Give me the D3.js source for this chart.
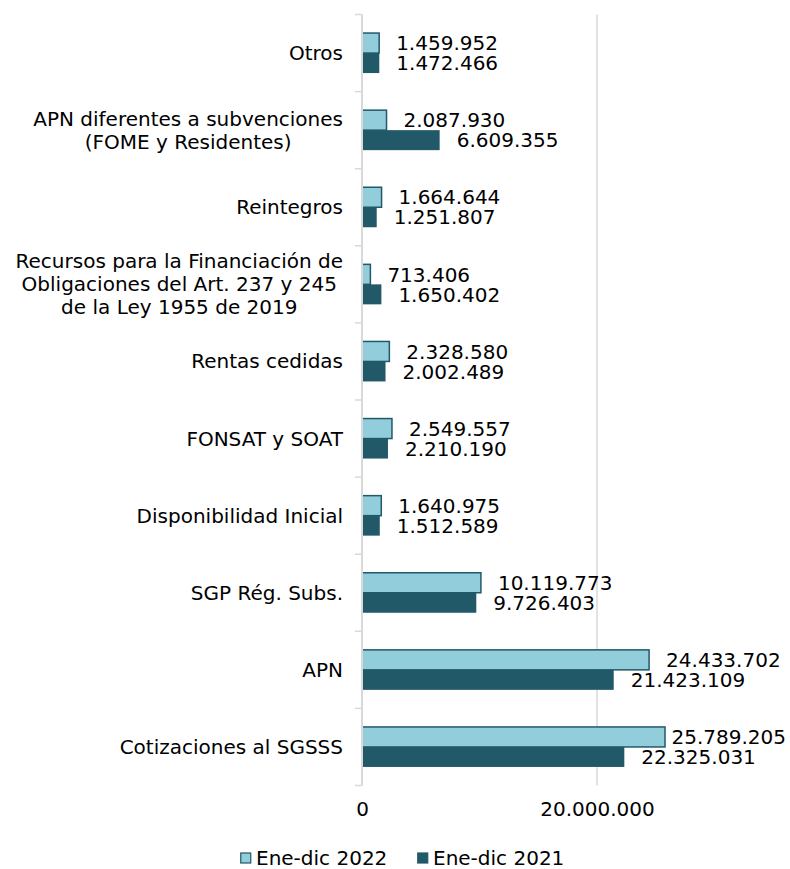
<!DOCTYPE html>
<html>
<head>
<meta charset="utf-8">
<script src="https://cdnjs.cloudflare.com/ajax/libs/d3/7.8.5/d3.min.js"></script>
<style>
    body { margin: 0; background: #fff; }
    svg { display: block; font-family: "DejaVu Sans", Verdana, sans-serif; }
</style>
</head>
<body>
<svg id="chart" width="790" height="869"></svg>
<script>
    "use strict";

    var categories = [
        ["Otros"],
        ["APN diferentes a subvenciones", "(FOME y Residentes)"],
        ["Reintegros"],
        ["Recursos para la Financiación de", "Obligaciones del Art. 237 y 245", "de la Ley 1955 de 2019"],
        ["Rentas cedidas"],
        ["FONSAT y SOAT"],
        ["Disponibilidad Inicial"],
        ["SGP Rég. Subs."],
        ["APN"],
        ["Cotizaciones al SGSSS"]
    ];
    var series = ["Ene-dic 2022", "Ene-dic 2021"];
    var values2022 = [1459952, 2087930, 1664644, 713406, 2328580, 2549557, 1640975, 10119773, 24433702, 25789205];
    var values2021 = [1472466, 6609355, 1251807, 1650402, 2002489, 2210190, 1512589, 9726403, 21423109, 22325031];
    var xTicks = [0, 20000000];

    var colors = { light: "#92cddc", dark: "#215968" };
    var fmt = function (v) { return d3.format(",")(v).replace(/,/g, "."); };

    var svg = d3.select("#chart");

    var x = d3.scaleLinear().domain([0, 20000000]).range([362, 597]);
    var y = d3.scaleBand().domain(d3.range(categories.length)).range([14.5, 785.5]);

    var barH = 20;
    var fs = 20;
    var rightEdge = 786;

    // gridline
    svg.append("g")
        .selectAll("line")
        .data(xTicks.slice(1))
        .enter()
        .append("line")
        .attr("x1", function (d) { return x(d); })
        .attr("x2", function (d) { return x(d); })
        .attr("y1", 14.5)
        .attr("y2", 785.5)
        .attr("stroke", "#d9d9d9")
        .attr("stroke-width", 1.5);

    // bottom axis labels
    var xAxis = d3.axisBottom(x).tickValues(xTicks).tickSize(0).tickFormat(fmt);
    var gx = svg.append("g").attr("transform", "translate(0,799)").call(xAxis);
    gx.select(".domain").remove();
    gx.selectAll("text").attr("font-size", fs).attr("fill", "#000").attr("font-family", "DejaVu Sans");

    // bars
    var groups = svg.append("g")
        .selectAll("g")
        .data(categories)
        .enter()
        .append("g")
        .attr("transform", function (d, i) { return "translate(0," + (y(i) + y.bandwidth() / 2) + ")"; });

    groups.append("rect")
        .attr("x", x(0))
        .attr("y", -barH)
        .attr("width", function (d, i) { return x(values2022[i]) - x(0); })
        .attr("height", barH)
        .attr("fill", colors.light)
        .attr("stroke", colors.dark)
        .attr("stroke-width", 1.5);

    groups.append("rect")
        .attr("x", x(0))
        .attr("y", 0)
        .attr("width", function (d, i) { return x(values2021[i]) - x(0); })
        .attr("height", barH)
        .attr("fill", colors.dark);

    function valueLabel(vals, yy) {
        groups.append("text")
            .attr("y", yy)
            .attr("dy", "0.36em")
            .attr("font-size", fs)
            .text(function (d, i) { return fmt(vals[i]); })
            .attr("x", function (d, i) {
                // keep label inside the chart area, like the nudged label in the original
                var w = this.getComputedTextLength();
                return Math.min(x(vals[i]) + 17, rightEdge - w);
            });
    }
    valueLabel(values2022, -barH / 2);
    valueLabel(values2021, barH / 2);

    // category labels: lines centered, block right-aligned
    groups.each(function (lines) {
        var g = d3.select(this);
        var lh = 23;
        var t = g.append("text").attr("font-size", fs).attr("text-anchor", "middle");
        var spans = t.selectAll("tspan")
            .data(lines)
            .enter()
            .append("tspan")
            .attr("y", function (d, j) { return (j - (lines.length - 1) / 2) * lh; })
            .attr("dy", "0.35em")
            .text(function (d) { return d; });
        var w = 0;
        spans.each(function () { w = Math.max(w, this.getComputedTextLength()); });
        spans.attr("x", 343 - w / 2);
    });

    // left axis line and ticks
    svg.append("line")
        .attr("x1", x(0)).attr("x2", x(0))
        .attr("y1", 14.5).attr("y2", 785.5)
        .attr("stroke", "#d9d9d9").attr("stroke-width", 2);

    svg.append("g")
        .selectAll("line")
        .data(d3.range(categories.length + 1))
        .enter()
        .append("line")
        .attr("x1", 355).attr("x2", x(0))
        .attr("y1", function (i) { return 14.5 + i * y.step(); })
        .attr("y2", function (i) { return 14.5 + i * y.step(); })
        .attr("stroke", "#d9d9d9").attr("stroke-width", 1.5);

    // legend
    var legend = svg.append("g").attr("transform", "translate(240,858)");
    var items = [
        { name: series[0], fill: colors.light, x: 0 },
        { name: series[1], fill: colors.dark, x: 177 }
    ];
    var li = legend.selectAll("g").data(items).enter().append("g")
        .attr("transform", function (d) { return "translate(" + d.x + ",0)"; });
    li.append("rect")
        .attr("x", 0.75).attr("y", -5).attr("width", 10).attr("height", 10)
        .attr("fill", function (d) { return d.fill; })
        .attr("stroke", colors.dark).attr("stroke-width", 1.2);
    li.append("text")
        .attr("x", 16).attr("dy", "0.35em")
        .attr("font-size", fs)
        .text(function (d) { return d.name; });
</script>
</body>
</html>
